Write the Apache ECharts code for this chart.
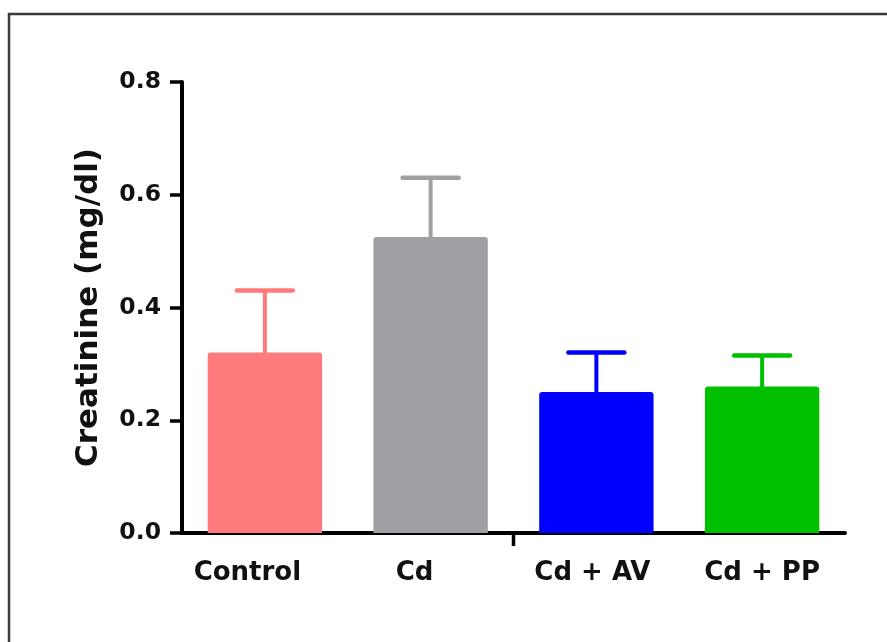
<!DOCTYPE html>
<html>
<head>
<meta charset="utf-8">
<script src="https://cdn.jsdelivr.net/npm/echarts@6/dist/echarts.min.js"></script>
<style>
html,body{margin:0;padding:0;background:#fff;}
#chart{width:887px;height:642px;}
</style>
</head>
<body>
<div id="chart"></div>
<script>
// ---- data ----
var categories = ['Control', 'Cd', 'Cd + AV', 'Cd + PP'];
var means = [0.32, 0.525, 0.25, 0.26];
var sems = [0.11, 0.105, 0.07, 0.055];
var yTicks = [0.0, 0.2, 0.4, 0.6, 0.8];
var yTitle = 'Creatinine (mg/dl)';

// ---- styling ----
var barColors = ['#FF7B7B', '#A09FA4', '#0000FF', '#00C000'];
var FONT = '"DejaVu Sans", sans-serif';
var tickedBoundary = 2; // the reference shows a single x tick before this category
var labelPad = {
  'Control': [0, 35, 0, 0],
  'Cd': [0, 32, 0, 0],
  'Cd + AV': [0, 8, 0, 0],
  'Cd + PP': [0, 0, 8, 0]
};
var rich = {};
categories.forEach(function (c, i) {
  rich['c' + i] = {
    fontFamily: FONT, fontWeight: 'bold', fontSize: 26, color: '#111',
    padding: labelPad[c] || [0, 0, 0, 0]
  };
});

var chart = echarts.init(document.getElementById('chart'));
chart.setOption({
  backgroundColor: '#fff',
  animation: false,
  grid: { left: 182, right: 42, top: 82, bottom: 109, containLabel: false },
  xAxis: {
    type: 'category',
    data: categories,
    axisLine: { lineStyle: { color: '#000', width: 4 } },
    axisTick: { show: false },
    axisLabel: {
      margin: 27,
      interval: 0,
      formatter: function (v) { return '{c' + categories.indexOf(v) + '|' + v + '}'; },
      rich: rich
    }
  },
  yAxis: {
    type: 'value',
    min: yTicks[0],
    max: yTicks[yTicks.length - 1],
    interval: 0.2,
    name: yTitle,
    nameLocation: 'middle',
    nameGap: 78,
    nameRotate: 90,
    nameTextStyle: { fontFamily: FONT, fontWeight: 'bold', fontSize: 31, color: '#111' },
    axisLine: { show: true, lineStyle: { color: '#000', width: 4 } },
    axisTick: { show: true, length: 12, lineStyle: { color: '#000', width: 3.5 } },
    splitLine: { show: false },
    axisLabel: {
      margin: 21,
      fontFamily: FONT, fontWeight: 'bold', fontSize: 23.5, color: '#111',
      formatter: function (v) { return v.toFixed(1); }
    }
  },
  series: [
    {
      type: 'custom',
      z: 1,
      data: means.map(function (m, i) { return [i, m, m + sems[i]]; }),
      renderItem: function (params, api) {
        var i = api.value(0);
        var top = api.coord([i, api.value(2)]);
        var base = api.coord([i, api.value(1)]);
        var zero = api.coord([i, 0]);
        var band = api.size([1, 0])[0];
        var halfCap = 28;
        var col = barColors[i];
        var children = [
          { type: 'line', shape: { x1: base[0], y1: base[1] + 2, x2: top[0], y2: top[1] },
            style: { stroke: col, lineWidth: 4 } },
          { type: 'line', shape: { x1: top[0] - halfCap, y1: top[1], x2: top[0] + halfCap, y2: top[1] },
            style: { stroke: col, lineWidth: 4.5, lineCap: 'round' } }
        ];
        if (i === tickedBoundary) {
          var bx = zero[0] - band / 2;
          children.push({ type: 'line', shape: { x1: bx, y1: zero[1], x2: bx, y2: zero[1] + 13 },
            style: { stroke: '#000', lineWidth: 3.5 } });
        }
        return { type: 'group', children: children };
      }
    },
    {
      type: 'bar',
      z: 2,
      barWidth: '69%',
      data: means.map(function (m, i) {
        return { value: m, itemStyle: { color: barColors[i], borderRadius: [3, 3, 0, 0] } };
      })
    }
  ],
  graphic: [
    {
      type: 'rect',
      silent: true,
      shape: { x: 9, y: 14, width: 900, height: 700 },
      style: { fill: 'none', stroke: '#3a3a3a', lineWidth: 2.5 },
      z: 100
    }
  ]
});
</script>
</body>
</html>
